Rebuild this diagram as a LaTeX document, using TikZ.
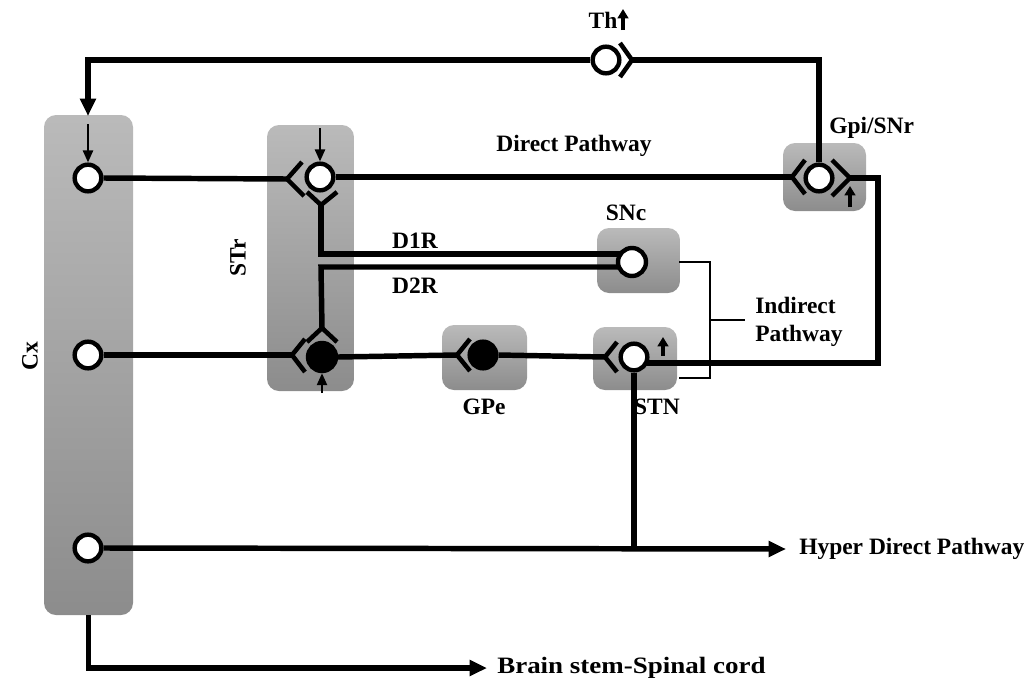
\documentclass[tikz,border=0pt]{standalone}
\usepackage{fontspec}
\usepackage{graphicx}
\setmainfont{Liberation Serif}
\usetikzlibrary{arrows.meta,calc}
\pgfdeclarelayer{bg}\pgfdeclarelayer{wires}
\pgfsetlayers{bg,wires,main}
\tikzset{
 wire/.style={line width=4.1pt, line join=miter},
 bracketline/.style={line width=1.4pt, line join=miter},
 bigarrow/.style={-{Triangle[length=13pt,width=11.5pt]}},
 smallarrow/.style={line width=1.7pt,-{Triangle[length=9pt,width=7.5pt]}},
 uparrow/.style={line width=2.6pt,-{Triangle[length=7pt,width=8pt]}},
 neuron/.style={circle, draw, line width=3.3pt, fill=white, minimum size=20pt, inner sep=0pt},
 fneuron/.style={neuron, fill=black},
 region/.style 2 args={rounded corners=9pt, top color=black!27, bottom color=black!45, draw=none, minimum width=#1*0.75pt, minimum height=#2*0.75pt, inner sep=0pt},
 chev/.style={line width=3.4pt, line join=miter, line cap=butt},
 lbl/.style={font=\fontsize{17.6}{21}\selectfont\bfseries, inner sep=0pt},
}
\begin{document}
\begin{tikzpicture}[x=0.75pt,y=-0.75pt]
\useasboundingbox (0,0) rectangle (1029,686);
% regions
\begin{pgfonlayer}{bg}
\node[region={89}{500}] (cxbox) at (88.5,365) {};
\node[region={87}{266}] (strbox) at (310.5,258) {};
\node[region={83}{68}] (gpibox) at (824.5,177) {};
\node[region={83}{65}] (sncbox) at (638.5,260.5) {};
\node[region={85}{65}] (gpebox) at (484.5,357.5) {};
\node[region={84}{63}] (stnbox) at (635,358.5) {};
\end{pgfonlayer}
% neurons
\node[neuron] (cx1) at (88,178) {};
\node[neuron] (cx2) at (88,355) {};
\node[neuron] (cx3) at (88,548) {};
\node[neuron] (str1) at (320,177) {};
\node[fneuron,minimum size=21pt] (str2) at (322,357) {};
\node[neuron] (gpi) at (819,178) {};
\node[neuron,minimum size=21pt] (snc) at (632,262) {};
\node[fneuron] (gpe) at (483,355) {};
\node[neuron] (stn) at (634,357) {};
\node[neuron] (th) at (606,60) {};
% chevron vertices
\coordinate (thv) at (632,60);
\coordinate (str1in) at (287,179);
\coordinate (str1d1) at (321,205);
\coordinate (str2in) at (292,355);
\coordinate (str2d2) at (322,328);
\coordinate (gpiin) at (792,177);
\coordinate (gpiout) at (850,178);
\coordinate (gpein) at (457,355);
\coordinate (stnin) at (605,357);
% other points
\coordinate (cxin) at (88,116);
\coordinate (rtop) at (878,178);
\coordinate (rbot) at (878,363);
\coordinate (d1c) at (321,254);
\coordinate (d2c) at (321,267);
\coordinate (hyp) at (634,549);
\coordinate (hypend) at (786,549);
\coordinate (bsend) at (487,668);
\coordinate (ibtop) at (679,262);
\coordinate (ibbot) at (679,378);
\coordinate (ibmid) at (710,320);
\coordinate (ibtick) at (745,320);
% chevrons
\draw[chev] (thv) ++(-12,-17) -- (thv) -- ++(-12,17);
\draw[chev] (str1in) ++(15,-17) -- (str1in) -- ++(17,17);
\draw[chev] (str1d1) ++(-14,-13) -- (str1d1) -- ++(16,-13);
\draw[chev] (str2in) ++(13,-16) -- (str2in) -- ++(13,17);
\draw[chev] (str2d2) ++(-15,14) -- (str2d2) -- ++(15,14);
\draw[chev] (gpiin) ++(13,-17) -- (gpiin) -- ++(13,17);
\draw[chev] (gpiout) ++(-18,-18) -- (gpiout) -- ++(-18,18);
\draw[chev] (gpein) ++(13,-16) -- (gpein) -- ++(13,16);
\draw[chev] (stnin) ++(12,-15) -- (stnin) -- ++(12,15);
% wires
\begin{pgfonlayer}{wires}
\draw[wire] (cx1.east) -- (str1in);
\draw[wire] (str1.east) -- (gpiin);
\draw[wire] (cx2.east) -- (str2in);
\draw[wire] (str2.east) -- (gpein);
\draw[wire] (gpe.east) -- (stnin);
\draw[wire] (gpiout) -- (rtop) -- (rbot) -- (rbot -| stn.center);
\draw[wire] (gpi.north) |- (thv);
\draw[wire,bigarrow] (th.west) -| (cxin);
\draw[wire] (str1d1) -- (d1c) -- (d1c -| snc.center);
\draw[wire] (str2d2) -- (d2c) -- (d2c -| snc.center);
\draw[wire] (stn.south) -- (hyp);
\draw[wire,bigarrow] (cx3.east) -- (hypend);
\draw[wire,bigarrow] (cxbox.south) |- (bsend);
\draw[bracketline] (ibtop) -| (ibmid) |- (ibbot);
\draw[bracketline] (ibmid) -- (ibtick);
\coordinate (a1) at (88,124);
\coordinate (a2) at (320,128);
\coordinate (a3) at (322,393);
\draw[smallarrow] (a1) -- (cx1.north);
\draw[smallarrow] (a2) -- (str1.north);
\draw[smallarrow] (a3) -- (str2.south);
\coordinate (u1s) at (850,207); \coordinate (u1e) at (850,186);
\coordinate (u2s) at (663,356); \coordinate (u2e) at (663,337);
\coordinate (u3s) at (623,30); \coordinate (u3e) at (623,9);
\draw[uparrow] (u1s) -- (u1e);
\draw[uparrow] (u2s) -- (u2e);
\draw[uparrow] (u3s) -- (u3e);
\end{pgfonlayer}
% labels
\node[lbl] (lth) at (603,20) {Th};
\node[lbl] (ldirect) at (574,146) {Direct Pathway};
\node[lbl,anchor=west] (lgpi) at (829,128) {Gpi/SNr};
\node[lbl] (lsnc) at (626,213) {SNc};
\node[lbl] (ld1) at (415,241) {D1R};
\node[lbl] (ld2) at (415,286) {D2R};
\node[lbl,rotate=90] (lstr) at (238,258) {STr};
\node[lbl,rotate=90] (lcx) at (30,356) {Cx};
\node[lbl,anchor=west,align=left] (lind) at (755,322) {Indirect\\Pathway};
\node[lbl] (lgpe) at (484,407) {GPe};
\node[lbl] (lstn) at (657,407) {STN};
\node[lbl,anchor=west] (lhyp) at (799,549) {Hyper Direct Pathway};
\node[lbl,anchor=west] (lbs) at (497,668) {\scalebox{1.15}[1]{Brain stem-Spinal cord}};
\end{tikzpicture}
\end{document}
